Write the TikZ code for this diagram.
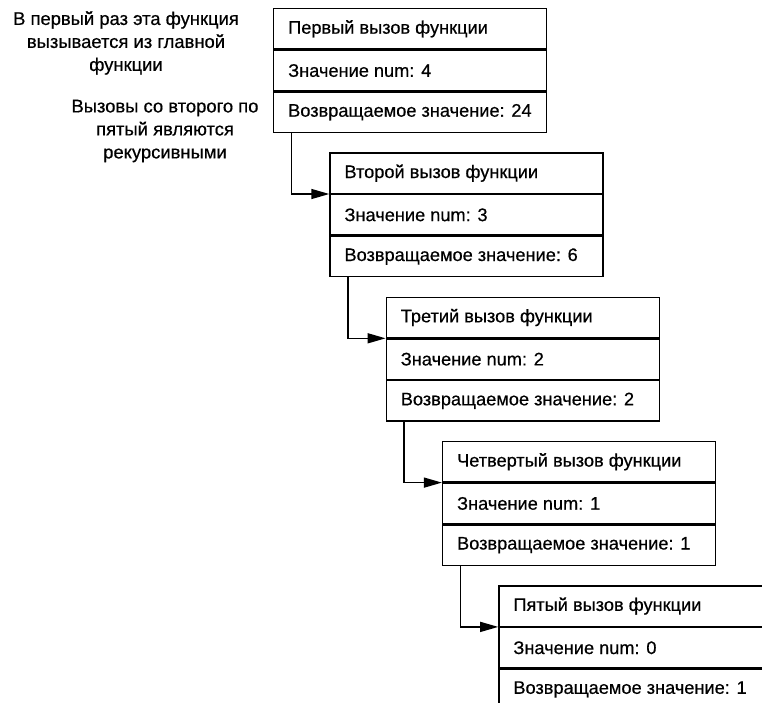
\documentclass[tikz,border=0pt]{standalone}
\usepackage{fontspec}
\setmainfont[FakeBold=0.5]{Liberation Sans}
\usetikzlibrary{arrows.meta,calc}
\begin{document}
\begin{tikzpicture}[x=1pt,y=-1pt,
  cell/.style={draw,line width=1.4pt,rectangle,minimum width=273pt,minimum height=40.3pt,inner sep=0pt,anchor=north west},
  lbl/.style={anchor=west,inner sep=0pt,font=\fontsize{18.2}{21}\selectfont},
  note/.style={align=center,inner sep=0pt,font=\fontsize{18.4}{23}\selectfont},
  arr/.style={line width=1.4pt,-{Triangle[length=18pt,width=10pt]}}]
\useasboundingbox (0,0) rectangle (762,702);
\clip (0,0) rectangle (762,702);
\foreach \i/\title/\num/\ret in {1/Первый/4/24,2/Второй/3/6,3/Третий/2/2,4/Четвертый/1/1,5/Пятый/0/1}{
  \node[cell] (b\i r1) at ({273+(\i-1)*56.3},{8+(\i-1)*144.3}) {};
  \node[cell] (b\i r2) at (b\i r1.south west) {};
  \node[cell] (b\i r3) at (b\i r2.south west) {};
  \node[lbl] (t\i a) at ([xshift=15pt]b\i r1.west) {\title\ вызов функции};
  \node[lbl] (t\i b) at ([xshift=15pt]b\i r2.west) {Значение num: \num};
  \node[lbl] (t\i c) at ([xshift=15pt]b\i r3.west) {Возвращаемое значение: \ret};
}
\foreach \i/\j in {1/2,2/3,3/4,4/5}{
  \draw[arr] ([xshift=18.5pt]b\i r3.south west) |- (b\j r1.south west);
}
\node[note] (n1) at (126,43) {В первый раз эта функция\\вызывается из главной\\функции};
\node[note] (n2) at (165,131) {Вызовы со второго по\\пятый являются\\рекурсивными};
\end{tikzpicture}
\end{document}
